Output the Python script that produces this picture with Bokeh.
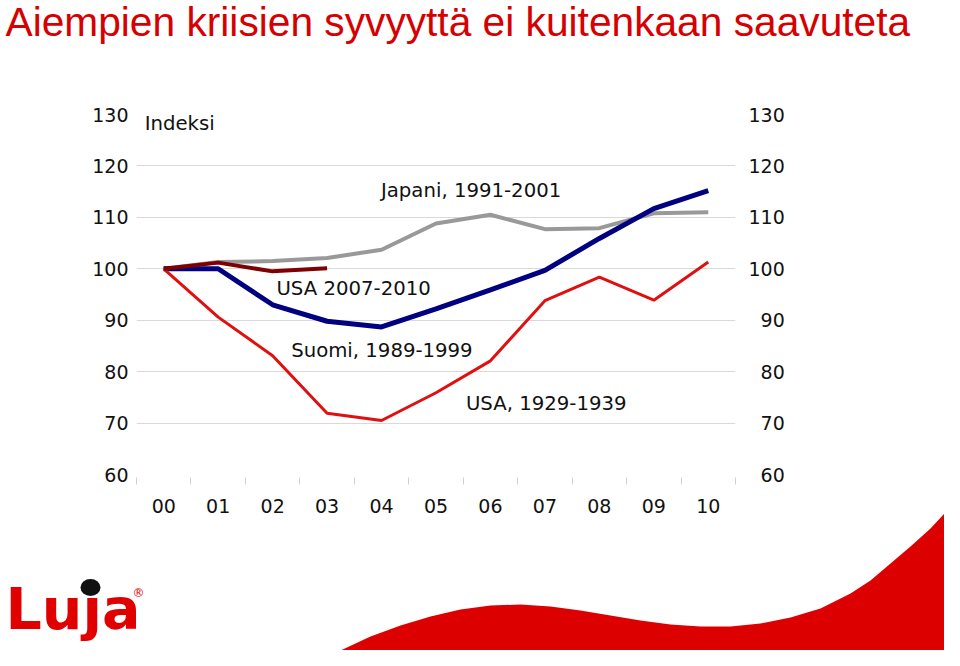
from bokeh.plotting import figure
from bokeh.models import Range1d, LinearAxis, FixedTicker, Label, GridBox
from bokeh.core.properties import value
from bokeh.embed import file_html
from bokeh.resources import INLINE

# ---------------- data ----------------
years = list(range(11))
tick_labels = ["00", "01", "02", "03", "04", "05", "06", "07", "08", "09", "10"]
japani_1991_2001 = [100.0, 101.3, 101.5, 102.1, 103.7, 108.8, 110.5, 107.7, 107.9, 110.8, 111.0]
suomi_1989_1999 = [100.0, 100.0, 93.0, 89.8, 88.7, 92.2, 95.9, 99.7, 105.9, 111.7, 115.2]
usa_1929_1939 = [100.0, 90.6, 83.1, 71.9, 70.5, 75.9, 82.1, 93.8, 98.4, 93.9, 101.3]
usa_2007_2010_years = [0, 1, 2, 3]
usa_2007_2010 = [100.0, 101.2, 99.5, 100.1]
y_ticks = [60, 70, 80, 90, 100, 110, 120, 130]
grid_ticks = [70, 80, 90, 100, 110, 120]

W, H = 944, 650
FONT = "DejaVu Sans"
RED = "#d60000"

# ---------------- decoration layer (title, logo, wave) ----------------
deco = figure(width=W, height=H, output_backend="svg", toolbar_location=None,
              x_range=Range1d(0, W), y_range=Range1d(H, 0),
              min_border=0, min_border_left=0, min_border_right=0,
              min_border_top=0, min_border_bottom=0,
              x_axis_location=None, y_axis_location=None)
deco.grid.visible = False
deco.outline_line_color = None
deco.background_fill_color = "white"
deco.border_fill_color = "white"

wave_x = [308, 340, 370, 400, 430, 460, 490, 520, 550, 580, 610, 640, 670, 700, 730,
          760, 790, 820, 850, 870, 890, 910, 930, 945, 960, 960]
wave_y = [666, 650, 636, 625, 616, 609, 605, 604, 606, 610, 615, 620, 624, 626, 626,
          623, 617, 608, 593, 580, 563, 546, 528, 512, 497, 666]
deco.patch(wave_x, wave_y, fill_color="#dd0000", line_color=None)

deco.text(x=[5], y=[21], text=["Aiempien kriisien syvyyttä ei kuitenkaan saavuteta"],
          text_font=value("Liberation Sans"), text_font_size="40.7px",
          text_color=RED, text_baseline="middle", text_align="left")

deco.text(x=[5], y=[608], text=["Lu\u0237a"], text_font=value("DejaVu Sans"),
          text_font_style="bold", text_font_size="57px", text_color="#e00000",
          text_baseline="middle", text_align="left")
deco.ellipse(x=[90], y=[587], width=[20], height=[17], fill_color="#111111", line_color=None)
deco.text(x=[138], y=[592], text=["\u00ae"], text_font=value("DejaVu Sans"),
          text_font_size="12px", text_color="#e00000",
          text_baseline="middle", text_align="center")

# ---------------- chart layer ----------------
p = figure(width=W, height=H, output_backend="svg", toolbar_location=None,
           x_range=Range1d(-0.5, 10.5), y_range=Range1d(60, 130),
           min_border_left=136, min_border_right=W - 735, min_border_top=114,
           min_border_bottom=H - 474, x_axis_location=None, y_axis_location=None)
p.outline_line_color = None
p.background_fill_color = None
p.border_fill_color = None

xa = LinearAxis(ticker=FixedTicker(ticks=years, minor_ticks=[y - 0.5 for y in range(12)]),
                major_label_overrides={y: t for y, t in zip(years, tick_labels)})
xa.axis_line_color = None
xa.major_tick_line_color = None
xa.major_tick_out = 0
xa.major_tick_in = 0
xa.minor_tick_line_color = "#d0d0d0"
xa.minor_tick_out = 10
xa.minor_tick_in = -3
xa.major_label_standoff = 14
xa.major_label_text_font = FONT
xa.major_label_text_font_size = "19px"
xa.major_label_text_color = "#111111"
p.add_layout(xa, "below")

ya = LinearAxis(ticker=FixedTicker(ticks=y_ticks))
ya.axis_line_color = None
ya.major_tick_line_color = None
ya.minor_tick_line_color = None
ya.major_tick_out = 0
ya.major_label_standoff = 8
ya.major_label_text_font = FONT
ya.major_label_text_font_size = "19px"
ya.major_label_text_color = "#111111"
p.add_layout(ya, "left")

# right axis: labels right-aligned by padding short labels with a figure space
ya2 = LinearAxis(ticker=FixedTicker(ticks=y_ticks),
                 major_label_overrides={t: ("\u2007" + str(t)) if t < 100 else str(t) for t in y_ticks})
ya2.axis_line_color = None
ya2.major_tick_line_color = None
ya2.minor_tick_line_color = None
ya2.major_tick_out = 0
ya2.major_label_standoff = 13
ya2.major_label_text_font = FONT
ya2.major_label_text_font_size = "19px"
ya2.major_label_text_color = "#111111"
p.add_layout(ya2, "right")

p.xgrid.visible = False
p.ygrid.ticker = FixedTicker(ticks=grid_ticks)
p.ygrid.grid_line_color = "#d9d9d9"
p.ygrid.grid_line_width = 1

p.line(years, japani_1991_2001, line_color="#999999", line_width=4)
p.line(years, suomi_1989_1999, line_color="#000080", line_width=5)
p.line(years, usa_1929_1939, line_color="#e01010", line_width=3)
p.line(usa_2007_2010_years, usa_2007_2010, line_color="#7f0000", line_width=4)


def lab(x, y, text):
    p.add_layout(Label(x=x, y=y, text=text, text_font=FONT, text_font_size="19.7px",
                       text_color="#111111", text_baseline="middle", text_align="left"))


lab(-0.35, 128.2, "Indeksi")
lab(3.99, 115.2, "Japani, 1991-2001")
lab(2.07, 96.1, "USA 2007-2010")
lab(2.34, 84.2, "Suomi, 1989-1999")
lab(5.55, 73.9, "USA, 1929-1939")

deco.frame_align = False
p.frame_align = False
layout = GridBox(children=[(deco, 0, 0), (p, 0, 0)])

open("out.html", "w").write(file_html(layout, INLINE))
